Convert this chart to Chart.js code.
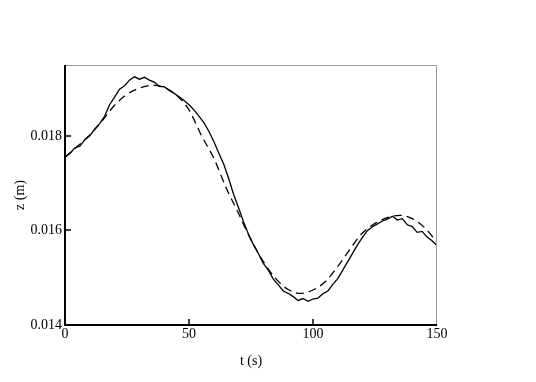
<!DOCTYPE html>
<html>
<head>
<meta charset="utf-8">
<script src="https://cdn.jsdelivr.net/npm/chart.js@4"></script>
<style>
  html, body { margin: 0; padding: 0; background: #fff; }
  #wrap { width: 536px; height: 382px; }
</style>
</head>
<body>
<div id="wrap"><canvas id="chart" width="536" height="382"></canvas></div>
<script>
// measured z (solid), every 2 s
const measuredT = [
    0, 2, 4, 6, 8, 10, 12, 14, 16, 18, 20, 22, 24, 26, 28, 30, 32, 34, 36, 38,
    40, 42, 44, 46, 48, 50, 52, 54, 56, 58, 60, 62, 64, 66, 68, 70, 72, 74, 76, 78,
    80, 82, 84, 86, 88, 90, 92, 94, 96, 98, 100, 102, 104, 106, 108, 110, 112, 114, 116, 118,
    120, 122, 124, 126, 128, 130, 132, 134, 136, 138, 140, 142, 144, 146, 148, 150,
];
const measuredZ = [
    0.01755, 0.01763, 0.01775, 0.01778, 0.01792, 0.01800, 0.01815, 0.01826, 0.01842, 0.01866,
    0.01882, 0.01899, 0.01906, 0.01918, 0.01925, 0.01920, 0.01924, 0.01918, 0.01914, 0.01905,
    0.01904, 0.01896, 0.01890, 0.01883, 0.01875, 0.01866, 0.01855, 0.01842, 0.01828, 0.01810,
    0.01788, 0.01764, 0.01740, 0.01710, 0.01676, 0.01648, 0.01618, 0.01592, 0.01570, 0.01551,
    0.01530, 0.01516, 0.01497, 0.01485, 0.01472, 0.01467, 0.01460, 0.01452, 0.01456, 0.01450,
    0.01455, 0.01457, 0.01466, 0.01472, 0.01486, 0.01498, 0.01516, 0.01534, 0.01552, 0.01570,
    0.01586, 0.01600, 0.01608, 0.01614, 0.01620, 0.01624, 0.01630, 0.01622, 0.01625, 0.01612,
    0.01608, 0.01596, 0.01598, 0.01586, 0.01578, 0.01568,
];
// model z (dashed), every 5 s
const modelT = [
    0, 5, 10, 15, 20, 25, 30, 35, 40, 45, 50, 55, 60, 65, 70, 75,
    80, 85, 90, 95, 100, 105, 110, 115, 120, 125, 130, 135, 140, 145, 150,
];
const modelZ = [
    0.01755, 0.01778, 0.01802, 0.01832, 0.01865, 0.01888, 0.01901, 0.01907, 0.01903, 0.01886,
    0.01855, 0.01801, 0.01753, 0.01690, 0.01636, 0.01580, 0.01534, 0.01498, 0.01475, 0.01467,
    0.01474, 0.01492, 0.01524, 0.01561, 0.01595, 0.01615, 0.01627, 0.01632, 0.01625, 0.01606,
    0.01575,
];
const xTicks = [0, 50, 100, 150];
const yTicks = [0.014, 0.016, 0.018];

const serif = "'Liberation Serif', 'Times New Roman', serif";

// frame + inward tick marks
const framePlugin = {
    id: "frame",
    afterDatasetsDraw(chart) {
        const { ctx, chartArea: a, scales } = chart;
        ctx.save();
        // top & right border, light
        ctx.strokeStyle = "#999";
        ctx.lineWidth = 1;
        ctx.beginPath();
        ctx.moveTo(a.left, a.top + 0.5);
        ctx.lineTo(a.right - 0.5, a.top + 0.5);
        ctx.lineTo(a.right - 0.5, a.bottom);
        ctx.stroke();
        // left & bottom border, heavy
        ctx.strokeStyle = "#000";
        ctx.lineWidth = 2;
        ctx.beginPath();
        ctx.moveTo(a.left, a.top);
        ctx.lineTo(a.left, a.bottom);
        ctx.lineTo(a.right, a.bottom);
        ctx.stroke();
        // tick marks pointing inward
        ctx.lineWidth = 1.5;
        ctx.beginPath();
        xTicks.slice(1, -1).forEach((v) => {
            const px = Math.round(scales.x.getPixelForValue(v));
            ctx.moveTo(px, a.bottom);
            ctx.lineTo(px, a.bottom - 6);
        });
        yTicks.slice(1).forEach((v) => {
            const py = Math.round(scales.y.getPixelForValue(v));
            ctx.moveTo(a.left, py);
            ctx.lineTo(a.left + 6, py);
        });
        ctx.stroke();
        ctx.restore();
    },
};

new Chart(document.getElementById("chart"), {
    type: "line",
    data: {
        datasets: [
            {
                data: measuredT.map((t, i) => ({ x: t, y: measuredZ[i] })),
                borderColor: "#000",
                borderWidth: 1.3,
                pointRadius: 0,
                tension: 0,
            },
            {
                data: modelT.map((t, i) => ({ x: t, y: modelZ[i] })),
                borderColor: "#000",
                borderWidth: 1.3,
                borderDash: [8, 5],
                pointRadius: 0,
                cubicInterpolationMode: "monotone",
            },
        ],
    },
    options: {
        responsive: false,
        animation: false,
        layout: { padding: { top: 65, right: 99, left: 0, bottom: 0 } },
        plugins: { legend: { display: false }, tooltip: { enabled: false } },
        scales: {
            x: {
                type: "linear",
                min: 0,
                max: 150,
                afterBuildTicks: (s) => { s.ticks = xTicks.map((v) => ({ value: v })); },
                afterFit: (s) => { s.height = 57; },
                grid: { display: false, drawTicks: false, tickLength: 0 },
                border: { display: false },
                ticks: {
                    color: "#000",
                    padding: 1,
                    maxRotation: 0,
                    font: { family: serif, size: 14 },
                },
                title: {
                    display: true,
                    text: "t (s)",
                    color: "#000",
                    padding: { top: 2, bottom: 12 },
                    font: { family: serif, size: 14 },
                },
            },
            y: {
                type: "linear",
                min: 0.014,
                max: 0.0195,
                afterBuildTicks: (s) => { s.ticks = yTicks.map((v) => ({ value: v })); },
                afterFit: (s) => { s.width = 65; },
                grid: { display: false, drawTicks: false, tickLength: 0 },
                border: { display: false },
                ticks: {
                    color: "#000",
                    padding: 3,
                    font: { family: serif, size: 14 },
                    callback: (v) => v.toFixed(3),
                },
                title: {
                    display: true,
                    text: "z (m)",
                    color: "#000",
                    padding: { top: 12, bottom: 0 },
                    font: { family: serif, size: 14 },
                },
            },
        },
    },
    plugins: [framePlugin],
});
</script>
</body>
</html>
